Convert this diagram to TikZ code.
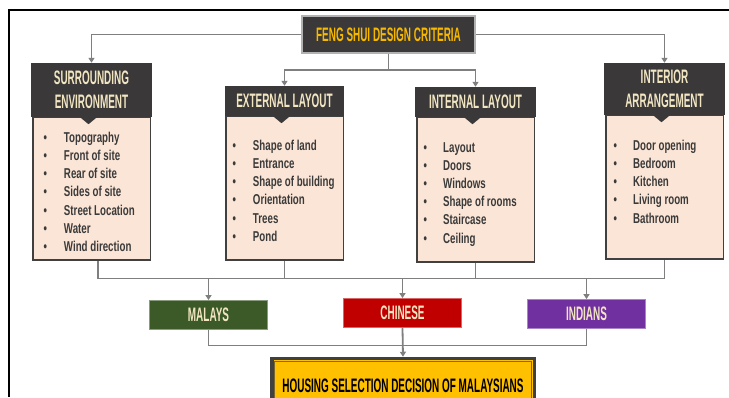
\documentclass[tikz,border=0pt]{standalone}
\usepackage{fontspec}
\setmainfont{Liberation Sans}
\newfontfamily\capsfont{Liberation Sans}[FakeStretch=0.51]
\newfontfamily\itemfont{Liberation Sans}[FakeStretch=0.68]
\usetikzlibrary{arrows.meta}

\definecolor{hdrdark}{HTML}{3A3838}
\definecolor{hdrtext}{HTML}{F2E6C2}
\definecolor{gold}{HTML}{FFC000}
\definecolor{titletext}{HTML}{F7B900}
\definecolor{bodyfill}{HTML}{FBE5D6}
\definecolor{edge}{HTML}{404040}
\definecolor{wiregrey}{HTML}{7F7F7F}
\definecolor{malaygreen}{HTML}{3B5A27}
\definecolor{chinared}{HTML}{C00000}
\definecolor{indiapurple}{HTML}{7030A0}
\definecolor{itemtext}{HTML}{3A3A3A}

\begin{document}
\begin{tikzpicture}[x=1pt,y=-1pt,
  wire/.style={draw=wiregrey, line width=1.8pt},
  feed/.style={wire, -{Triangle[width=6pt,length=5pt]}},
  capsbig/.style={font=\capsfont\bfseries\fontsize{19.5}{23.5}\selectfont},
  header/.style={capsbig, fill=hdrdark, text=hdrtext, align=center,
    inner sep=0pt, minimum width=120.5pt},
  body/.style={draw=edge, line width=1.5pt, fill=bodyfill, inner sep=0pt,
    minimum width=117.5pt},
  listitem/.style={font=\itemfont\bfseries\fontsize{14.3}{18}\selectfont,
    text=itemtext, inner sep=0pt, anchor=base west},
  group/.style={capsbig, text=hdrtext, inner sep=0pt, line width=0.8pt,
    minimum width=118pt, minimum height=29pt},
  pointer/.style={fill=hdrdark}
]
\useasboundingbox (0,0) rectangle (729,397);
\clip (0,0) rectangle (729,397);

% outer frame
\draw[black, line width=1.3pt] (729,10) -- (9,10) -- (9,397);

% top criterion
\node[capsbig, draw=gray!60, line width=2pt, fill=hdrdark, text=titletext,
  minimum width=173pt, minimum height=37pt, inner sep=0pt]
  (title) at (388.5,34.5) {FENG SHUI DESIGN CRITERIA};

% list bodies
\node[body, minimum height=143pt] (b1) at (91.5,188.5) {};
\node[body, minimum height=144pt] (b2) at (284.5,188) {};
\node[body, minimum height=145pt] (b3) at (475.5,189.5) {};
\node[body, minimum height=144pt] (b4) at (664.5,187) {};

% headers with their pointers
\node[header, minimum height=54pt] (h1) at (91.5,90) {SURROUNDING\\ENVIRONMENT};
\node[header, minimum height=30pt, minimum width=118.5pt] (h2) at (284.5,101) {EXTERNAL LAYOUT};
\node[header, minimum height=30pt] (h3) at (475.5,102) {INTERNAL LAYOUT};
\node[header, minimum height=52pt] (h4) at (664.5,89) {INTERIOR\\ARRANGEMENT};
\foreach \h in {h1,h2,h3,h4}{
  \fill[pointer] ([xshift=-11.5pt]\h.south) -- ([xshift=5.5pt]\h.south)
    -- ([xshift=-3pt,yshift=-7pt]\h.south) -- cycle;
}

% list entries
\foreach \t [count=\i] in {Topography, Front of site, Rear of site,
    Sides of site, Street Location, Water, Wind direction}
  \node[listitem] (l1-\i) at (43.3,{142+18.3*(\i-1)}) {\makebox[20.5pt][l]{\textbullet}\t};
\foreach \t [count=\i] in {Shape of land, Entrance, Shape of building,
    Orientation, Trees, Pond}
  \node[listitem] (l2-\i) at (232.3,{150+18.3*(\i-1)}) {\makebox[20.5pt][l]{\textbullet}\t};
\foreach \t [count=\i] in {Layout, Doors, Windows, Shape of rooms,
    Staircase, Ceiling}
  \node[listitem] (l3-\i) at (423.3,{152+18.2*(\i-1)}) {\makebox[19.7pt][l]{\textbullet}\t};
\foreach \t [count=\i] in {Door opening, Bedroom, Kitchen, Living room,
    Bathroom}
  \node[listitem] (l4-\i) at (613.3,{150+18.25*(\i-1)}) {\makebox[19.7pt][l]{\textbullet}\t};

% ethnic groups
\node[group, fill=malaygreen, draw=malaygreen!60!white] (malays) at (208.5,315) {MALAYS};
\node[group, fill=chinared, draw=chinared!60!white] (chinese) at (402.5,313) {CHINESE};
\node[group, fill=indiapurple, draw=indiapurple!60!white] (indians) at (586.5,314) {INDIANS};

% final decision
\node[capsbig, draw=edge, line width=3.5pt, fill=gold, text=black,
  minimum width=262.5pt, minimum height=54pt, inner sep=0pt]
  (housing) at (403,385.5) {HOUSING SELECTION DECISION OF MALAYSIANS};
\draw[edge!70!gold, line width=0.9pt]
  ([shift={(4.2pt,-4.2pt)}]housing.north west) rectangle
  ([shift={(-4.2pt,4.2pt)}]housing.south east);

% connectors from the criteria
\draw[feed] (title.west) -| (h1.north);
\draw[feed] (title.east) -| (h4.north);
\coordinate (split) at (388.5,70);
\draw[wire] (title.south) -- (split);
\draw[feed] (split) -| (h2.north);
\draw[feed] (split) -| (h3.north);

% collecting bus below the lists
\coordinate (bus) at (0,278.5);
\coordinate (b1out) at ([xshift=6.5pt]b1.south);
\draw[wire] (b1out) -- (b1out |- bus) -- (b4.south |- bus) -- (b4.south);
\draw[wire] (b2.south) -- (b2.south |- bus);
\draw[wire] (b3.south) -- (b3.south |- bus);
\draw[feed] (malays.north |- bus) -- (malays.north);
\draw[feed] (chinese.north |- bus) -- (chinese.north);
\draw[feed] (indians.north |- bus) -- (indians.north);

% groups into the decision
\coordinate (join) at (0,345.5);
\draw[wire] (malays.south) -- (malays.south |- join) -- (indians.south |- join) -- (indians.south);
\draw[feed] (chinese.south) -- (housing.north);
\end{tikzpicture}
\end{document}
